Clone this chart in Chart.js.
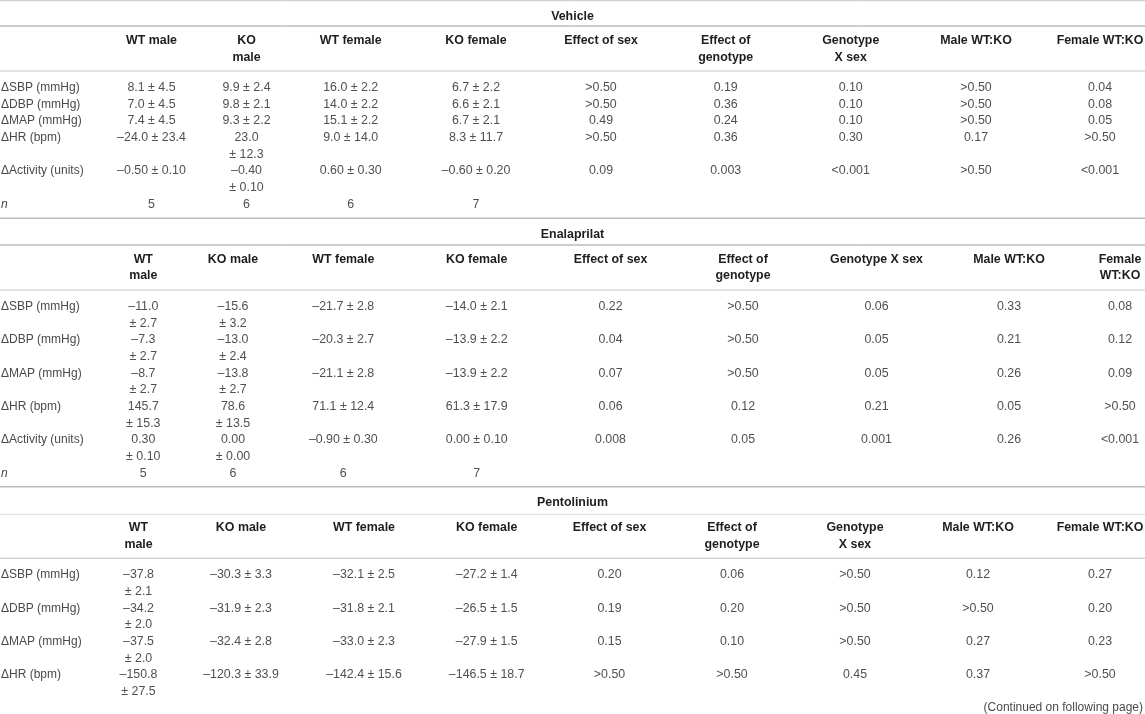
<!DOCTYPE html>
<html>
<head>
<meta charset="utf-8">
<title>Vehicle / Enalaprilat / Pentolinium</title>
<script src="https://cdn.jsdelivr.net/npm/chart.js@4.4.1/dist/chart.umd.min.js"></script>
<style>
  html, body { margin: 0; padding: 0; background: #fff; }
  #table { display: block; }
</style>
</head>
<body>
<canvas id="table" width="1145" height="714"></canvas>
<script>
var rowLabels = ['ΔSBP (mmHg)', 'ΔDBP (mmHg)', 'ΔMAP (mmHg)', 'ΔHR (bpm)', 'ΔActivity (units)'];
var rowDecimals = [1, 1, 1, 1, 2];

var vehicleHeads = ['WT male', 'KO\nmale', 'WT female', 'KO female', 'Effect of sex', 'Effect of\ngenotype', 'Genotype\nX sex', 'Male WT:KO', 'Female WT:KO'];
var vehicleMean = [[8.1, 9.9, 16.0, 6.7], [7.0, 9.8, 14.0, 6.6], [7.4, 9.3, 15.1, 6.7], [-24.0, 23.0, 9.0, 8.3], [-0.50, -0.40, 0.60, -0.60]];
var vehicleSem = [[4.5, 2.4, 2.2, 2.2], [4.5, 2.1, 2.2, 2.1], [4.5, 2.2, 2.2, 2.1], [23.4, 12.3, 14.0, 11.7], [0.10, 0.10, 0.30, 0.20]];
var vehicleP = [
  ['>0.50', '0.19', '0.10', '>0.50', '0.04'],
  ['>0.50', '0.36', '0.10', '>0.50', '0.08'],
  ['0.49', '0.24', '0.10', '>0.50', '0.05'],
  ['>0.50', '0.36', '0.30', '0.17', '>0.50'],
  ['0.09', '0.003', '<0.001', '>0.50', '<0.001']
];
var vehicleN = [5, 6, 6, 7];

var enalaprilatHeads = ['WT\nmale', 'KO male', 'WT female', 'KO female', 'Effect of sex', 'Effect of\ngenotype', 'Genotype X sex', 'Male WT:KO', 'Female\nWT:KO'];
var enalaprilatMean = [[-11.0, -15.6, -21.7, -14.0], [-7.3, -13.0, -20.3, -13.9], [-8.7, -13.8, -21.1, -13.9], [145.7, 78.6, 71.1, 61.3], [0.30, 0.00, -0.90, 0.00]];
var enalaprilatSem = [[2.7, 3.2, 2.8, 2.1], [2.7, 2.4, 2.7, 2.2], [2.7, 2.7, 2.8, 2.2], [15.3, 13.5, 12.4, 17.9], [0.10, 0.00, 0.30, 0.10]];
var enalaprilatP = [
  ['0.22', '>0.50', '0.06', '0.33', '0.08'],
  ['0.04', '>0.50', '0.05', '0.21', '0.12'],
  ['0.07', '>0.50', '0.05', '0.26', '0.09'],
  ['0.06', '0.12', '0.21', '0.05', '>0.50'],
  ['0.008', '0.05', '0.001', '0.26', '<0.001']
];
var enalaprilatN = [5, 6, 6, 7];

var pentoliniumHeads = ['WT\nmale', 'KO male', 'WT female', 'KO female', 'Effect of sex', 'Effect of\ngenotype', 'Genotype\nX sex', 'Male WT:KO', 'Female WT:KO'];
var pentoliniumMean = [[-37.8, -30.3, -32.1, -27.2], [-34.2, -31.9, -31.8, -26.5], [-37.5, -32.4, -33.0, -27.9], [-150.8, -120.3, -142.4, -146.5]];
var pentoliniumSem = [[2.1, 3.3, 2.5, 1.4], [2.0, 2.3, 2.1, 1.5], [2.0, 2.8, 2.3, 1.5], [27.5, 33.9, 15.6, 18.7]];
var pentoliniumP = [
  ['0.20', '0.06', '>0.50', '0.12', '0.27'],
  ['0.19', '0.20', '>0.50', '>0.50', '0.20'],
  ['0.15', '0.10', '>0.50', '0.27', '0.23'],
  ['>0.50', '>0.50', '0.45', '0.37', '>0.50']
];

var footNote = '(Continued on following page)';

// ---- layout (table units = pixels of the 1145 x 714 page) ----
var W = 1145, H = 714, LH = 16.6;

var vehicleCols = [151.5, 246.5, 350.7, 476, 601, 725.7, 850.7, 976, 1100];
var enalaprilatCols = [143.3, 233, 343.3, 476.7, 610.5, 743, 876.5, 1009, 1120];
var pentoliniumCols = [138.5, 241, 364, 486.7, 609.5, 732, 855, 978, 1100];

var sections = [
  { title: 'Vehicle', heads: vehicleHeads, mean: vehicleMean, sem: vehicleSem, p: vehicleP, n: vehicleN,
    cols: vehicleCols, titleY: 15.7, headY: 39.5, rowY: [86.7, 103.3, 120, 136.7, 170], nY: 203.3,
    wrap: function (r, c) { return c === 1 && r >= 3; },
    rules: [[0.7, '#c4c4c4', 1], [26, '#9a9a9a', 1], [71, '#dadada', 1.5], [218.3, '#bcbcbc', 1.5]] },
  { title: 'Enalaprilat', heads: enalaprilatHeads, mean: enalaprilatMean, sem: enalaprilatSem, p: enalaprilatP, n: enalaprilatN,
    cols: enalaprilatCols, titleY: 233.3, headY: 258.3, rowY: [305.7, 339, 372.3, 405.7, 439], nY: 472.3,
    wrap: function (r, c) { return c <= 1; },
    rules: [[245, '#9a9a9a', 1], [290, '#dadada', 1.5], [486.7, '#bcbcbc', 1.5]] },
  { title: 'Pentolinium', heads: pentoliniumHeads, mean: pentoliniumMean, sem: pentoliniumSem, p: pentoliniumP, n: null,
    cols: pentoliniumCols, titleY: 501.7, headY: 526.7, rowY: [574, 607.3, 640.7, 674], nY: null,
    wrap: function (r, c) { return c === 0; },
    rules: [[514.3, '#dadada', 1], [558.3, '#d2d2d2', 1.5]] }
];

var styles = {
  title:  { font: 'bold 12.4px "Liberation Sans", Arial, sans-serif', color: '#1e1e1e', align: 'center' },
  head:   { font: 'bold 12.4px "Liberation Sans", Arial, sans-serif', color: '#1e1e1e', align: 'center' },
  label:  { font: '12px "Liberation Sans", Arial, sans-serif', color: '#4a4a4a', align: 'left' },
  italic: { font: 'italic 12px "Liberation Sans", Arial, sans-serif', color: '#4a4a4a', align: 'left' },
  cell:   { font: '12.4px "Liberation Sans", Arial, sans-serif', color: '#505050', align: 'center' },
  note:   { font: '12px "Liberation Sans", Arial, sans-serif', color: '#4a4a4a', align: 'right' }
};

function fmt(v, d) {
  return (v < 0 ? '–' : '') + Math.abs(v).toFixed(d);
}

// ---- build text items and rules from the arrays ----
var items = [];
var ruleSets = [];

sections.forEach(function (s) {
  items.push({ x: W / 2, y: s.titleY, label: s.title, kind: 'title' });

  s.heads.forEach(function (h, c) {
    h.split('\n').forEach(function (line, k) {
      items.push({ x: s.cols[c], y: s.headY + k * LH, label: line, kind: 'head' });
    });
  });

  s.mean.forEach(function (row, r) {
    var y = s.rowY[r];
    items.push({ x: 1, y: y, label: rowLabels[r], kind: 'label' });
    row.forEach(function (m, c) {
      var a = fmt(m, rowDecimals[r]);
      var b = '± ' + s.sem[r][c].toFixed(rowDecimals[r]);
      if (s.wrap(r, c)) {
        items.push({ x: s.cols[c], y: y, label: a, kind: 'cell' });
        items.push({ x: s.cols[c], y: y + LH, label: b, kind: 'cell' });
      } else {
        items.push({ x: s.cols[c], y: y, label: a + ' ± ' + s.sem[r][c].toFixed(rowDecimals[r]), kind: 'cell' });
      }
    });
    s.p[r].forEach(function (pv, k) {
      items.push({ x: s.cols[4 + k], y: y, label: pv, kind: 'cell' });
    });
  });

  if (s.n) {
    items.push({ x: 1, y: s.nY, label: 'n', kind: 'italic' });
    s.n.forEach(function (v, c) {
      items.push({ x: s.cols[c], y: s.nY, label: String(v), kind: 'cell' });
    });
  }

  s.rules.forEach(function (rl) { ruleSets.push(rl); });
});

items.push({ x: 1143, y: 707, label: footNote, kind: 'note' });

var datasets = ruleSets.map(function (rl) {
  return {
    type: 'scatter',
    showLine: true,
    data: [{ x: 0, y: rl[0] }, { x: W, y: rl[0] }],
    borderColor: rl[1],
    borderWidth: rl[2],
    pointRadius: 0,
    clip: false
  };
});

datasets.push({
  type: 'scatter',
  textItems: true,
  data: items,
  pointRadius: 0,
  clip: false
});

var tableText = {
  id: 'tableText',
  afterDatasetsDraw: function (chart) {
    var ctx = chart.ctx;
    chart.data.datasets.forEach(function (ds, i) {
      if (!ds.textItems) return;
      var meta = chart.getDatasetMeta(i);
      meta.data.forEach(function (pt, j) {
        var it = ds.data[j];
        var st = styles[it.kind];
        ctx.save();
        ctx.font = st.font;
        ctx.fillStyle = st.color;
        ctx.textAlign = st.align;
        ctx.textBaseline = 'alphabetic';
        ctx.fillText(it.label, pt.x, pt.y + 4.4);
        ctx.restore();
      });
    });
  }
};

var chart = new Chart(document.getElementById('table'), {
  type: 'scatter',
  data: { datasets: datasets },
  options: {
    responsive: false,
    animation: false,
    layout: { padding: 0 },
    scales: {
      x: { type: 'linear', min: 0, max: W, display: false },
      y: { type: 'linear', min: 0, max: H, reverse: true, display: false }
    },
    plugins: {
      legend: { display: false },
      tooltip: { enabled: false }
    },
    events: []
  },
  plugins: [tableText]
});
</script>
</body>
</html>
